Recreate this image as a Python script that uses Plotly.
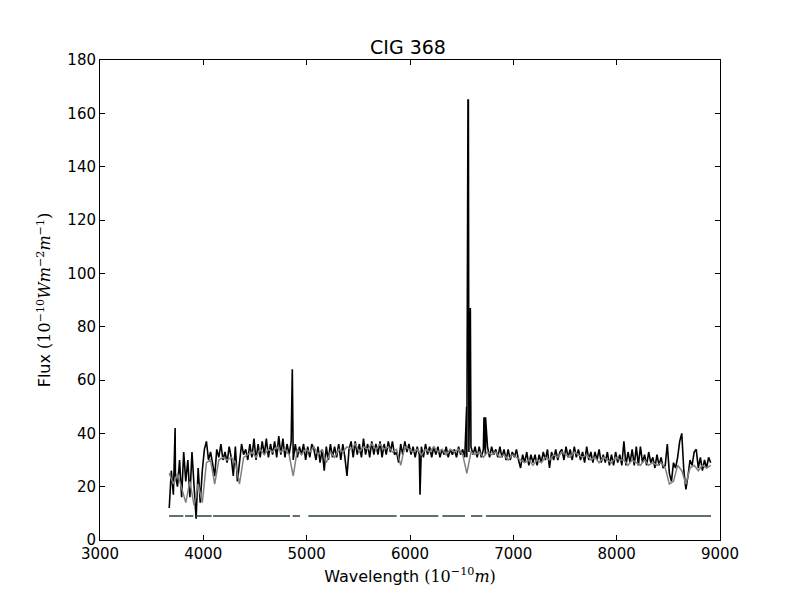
import plotly.graph_objects as go

# ---------------- data ----------------
# observed spectrum, sampled every 20 Angstrom starting at 3670
obs_start = 3670
obs_step = 20
obs_flux = [
    12, 26, 17, 24, 20, 30, 16, 33, 22, 30,   # 3670
    16, 33, 22, 8, 27, 14, 26, 34, 37, 30,    # 3870
    33, 29, 24, 34, 31, 36, 30, 33, 29, 35,   # 4070
    31, 24, 35, 22, 29, 36, 32, 34, 30, 36,   # 4270
    31, 38, 30, 36, 31, 37, 32, 38, 31, 36,   # 4470
    32, 37, 31, 39, 32, 38, 31, 36, 32, 37,   # 4670
    30, 36, 31, 35, 32, 36, 30, 35, 31, 36,   # 4870
    34, 30, 35, 29, 34, 26, 35, 30, 36, 31,   # 5070
    35, 31, 36, 30, 36, 31, 24, 34, 37, 31,   # 5270
    37, 32, 36, 31, 38, 32, 36, 31, 37, 32,   # 5470
    36, 32, 37, 31, 36, 32, 37, 33, 37, 32,   # 5670
    33, 29, 36, 32, 37, 33, 36, 32, 35, 31,   # 5870
    35, 32, 35, 31, 36, 32, 35, 31, 35, 32,   # 6070
    35, 31, 34, 32, 35, 31, 34, 32, 34, 31,   # 6270
    35, 32, 34, 31, 31, 33, 35, 32, 35, 31,   # 6470
    35, 31, 34, 32, 35, 31, 35, 32, 34, 31,   # 6670
    35, 31, 34, 30, 34, 30, 33, 31, 34, 30,   # 6870
    27, 32, 29, 33, 28, 32, 29, 32, 28, 32,   # 7070
    29, 33, 30, 34, 27, 33, 30, 34, 30, 33,   # 7270
    34, 30, 35, 31, 34, 30, 35, 31, 34, 30,   # 7470
    33, 29, 35, 30, 33, 29, 33, 30, 34, 29,   # 7670
    32, 29, 33, 28, 32, 28, 33, 29, 32, 28,   # 7870
    37, 28, 33, 29, 34, 28, 35, 28, 35, 29,   # 8070
    32, 28, 33, 29, 31, 27, 32, 28, 31, 27,   # 8270
    28, 36, 25, 22, 29, 27, 31, 37, 40, 26,   # 8470
    19, 24, 30, 28, 33, 34, 27, 31, 26, 30,   # 8670
    27, 31, 29,                               # 8870
]

# narrow emission / absorption features in the observed spectrum
line_wl = [3727, 4861, 6097, 6548, 6561, 6565, 6584, 6716, 6724, 6731]
line_flux = [42, 64, 17, 50, 165, 165, 87, 46, 36, 46]

# model (synthetic) spectrum, sampled every 40 Angstrom starting at 3670
model_start = 3670
model_step = 40
model_flux = [
    25, 21, 25, 19, 14, 22, 13, 21, 14, 29,   # 3670
    30, 21, 30, 31, 30, 31, 29, 21, 31, 32,   # 4070
    33, 31, 34, 32, 34, 33, 35, 33, 34, 32,   # 4470
    24, 34, 32, 34, 33, 35, 32, 34, 29, 33,   # 4870
    31, 34, 33, 35, 34, 36, 33, 35, 34, 36,   # 5270
    34, 36, 34, 35, 33, 34, 28, 35, 34, 33,   # 5670
    34, 32, 34, 33, 35, 33, 34, 32, 34, 33,   # 6070
    34, 32, 25, 33, 32, 33, 31, 33, 32, 33,   # 6470
    31, 32, 30, 32, 31, 30, 29, 30, 28, 30,   # 6870
    29, 31, 30, 32, 31, 33, 32, 31, 33, 32,   # 7270
    31, 32, 30, 31, 29, 31, 30, 29, 31, 30,   # 7670
    30, 28, 30, 29, 28, 30, 28, 29, 28, 29,   # 8070
    27, 21, 22, 28, 26, 21, 27, 28, 26, 28,   # 8470
    27, 28,                                   # 8870
]

# fitted wavelength ranges (mask), drawn at a constant level
mask_start = [3668, 3823, 3935, 4094, 4864, 5016, 5903, 6313, 6590, 6735]
mask_end = [3806, 3903, 4081, 4839, 4935, 5871, 6274, 6532, 6700, 8913]
mask_level = 9

title_text = "CIG 368"
x_ticks = [3000, 4000, 5000, 6000, 7000, 8000, 9000]
y_ticks = [0, 20, 40, 60, 80, 100, 120, 140, 160, 180]

# ---------------- build traces ----------------
obs_wl = [obs_start + i * obs_step for i in range(len(obs_flux))]
pairs = sorted(list(zip(obs_wl, obs_flux)) + list(zip(line_wl, line_flux)))
obs_x = [p[0] for p in pairs]
obs_y = [p[1] for p in pairs]

model_wl = [model_start + i * model_step for i in range(len(model_flux))]

mask_x, mask_y = [], []
for s, e in zip(mask_start, mask_end):
    mask_x += [s, e, None]
    mask_y += [mask_level, mask_level, None]

fig = go.Figure()
fig.add_trace(go.Scatter(x=obs_x, y=obs_y, mode="lines",
                         line=dict(color="black", width=1.6), showlegend=False))
fig.add_trace(go.Scatter(x=model_wl, y=model_flux, mode="lines",
                         line=dict(color="#808080", width=1.5), showlegend=False))
fig.add_trace(go.Scatter(x=mask_x, y=mask_y, mode="lines",
                         line=dict(color="#5f7074", width=2), showlegend=False))

font_main = "DejaVu Sans, Arial, sans-serif"
math = "font-family:'DejaVu Serif', serif"

fig.update_layout(
    width=800, height=600,
    margin=dict(l=92, r=88, t=52, b=68),
    paper_bgcolor="white", plot_bgcolor="white",
    font=dict(family=font_main, size=15, color="black"),
    title=dict(text=title_text, x=0.5, xanchor="center", y=0.935, yanchor="middle",
               font=dict(size=19, family=font_main, color="black")),
)
axis_common = dict(showgrid=False, zeroline=False, showline=True, linecolor="black",
                   linewidth=1, mirror="ticks", ticks="inside", ticklen=5,
                   tickcolor="black", tickfont=dict(size=15, family=font_main))
fig.update_xaxes(range=[3000, 9000], tickvals=x_ticks, ticktext=[str(v) for v in x_ticks],
                 title=dict(text="Wavelength <span style=\"" + math + "\">(10<sup>−10</sup><i>m</i>)</span>",
                            font=dict(size=16), standoff=8),
                 **axis_common)
fig.update_yaxes(range=[0, 180], tickvals=y_ticks, ticktext=[str(v) for v in y_ticks],
                 title=dict(text="Flux <span style=\"" + math + "\">(10<sup>−10</sup><i>Wm</i><sup>−2</sup><i>m</i><sup>−1</sup>)</span>",
                            font=dict(size=16), standoff=12),
                 **axis_common)

fig.write_html("out.html")
